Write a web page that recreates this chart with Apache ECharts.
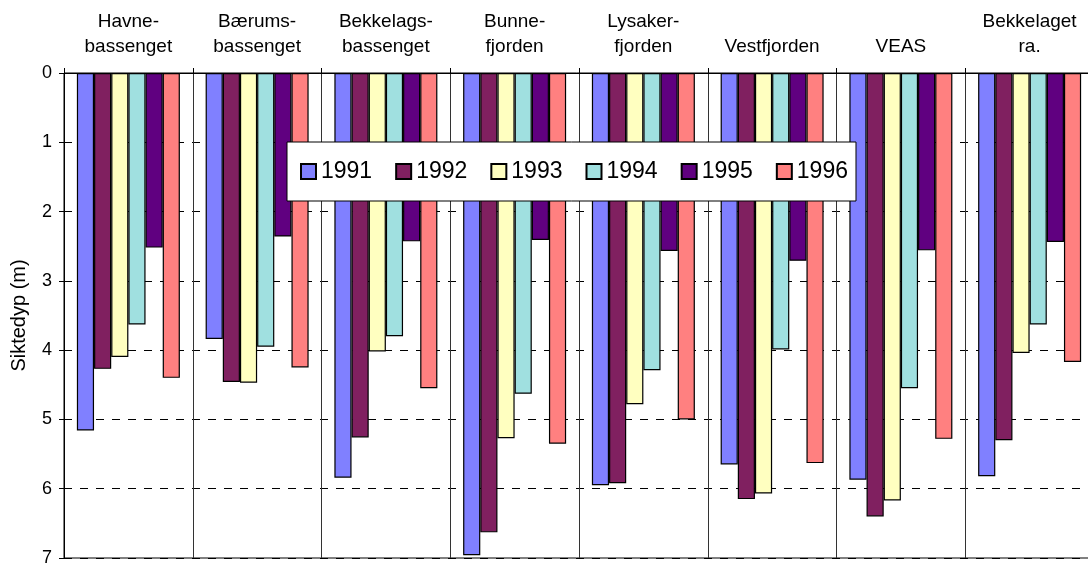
<!DOCTYPE html>
<html>
<head>
<meta charset="utf-8">
<script src="https://cdn.jsdelivr.net/npm/echarts@6/dist/echarts.min.js"></script>
<style>
  html, body { margin: 0; padding: 0; background: #fff; }
  #chart1 { width: 1088px; height: 568px; }
</style>
</head>
<body>
<div id="chart1"></div>
<script>
const categories = ['Havne-\nbassenget', 'Bærums-\nbassenget', 'Bekkelags-\nbassenget', 'Bunne-\nfjorden',
    'Lysaker-\nfjorden', 'Vestfjorden', 'VEAS', 'Bekkelaget\nra.'];
const years = ['1991', '1992', '1993', '1994', '1995', '1996'];
const yearColors = ['#8080FF', '#802060', '#FFFFC0', '#A0E0E0', '#600080', '#FF8080'];

// siktedyp (m) per år, én verdi per område
const v1991 = [5.16, 3.84, 5.84, 6.96, 5.95, 5.65, 5.87, 5.82];
const v1992 = [4.27, 4.46, 5.26, 6.63, 5.92, 6.15, 6.40, 5.30];
const v1993 = [4.10, 4.47, 4.02, 5.27, 4.78, 6.07, 6.17, 4.04];
const v1994 = [3.63, 3.95, 3.80, 4.63, 4.29, 3.99, 4.55, 3.63];
const v1995 = [2.52, 2.36, 2.43, 2.41, 2.57, 2.71, 2.56, 2.44];
const v1996 = [4.40, 4.25, 4.55, 5.35, 5.00, 5.63, 5.28, 4.17];
const yTicks = [0, 1, 2, 3, 4, 5, 6, 7];

const seriesValues = [v1991, v1992, v1993, v1994, v1995, v1996];
const font = 'Liberation Sans, Arial, sans-serif';

const chart = echarts.init(document.getElementById('chart1'));
const option = {
    animation: false,
    backgroundColor: '#fff',
    grid: {
        left: 64,
        width: 1030,
        top: 73,
        bottom: 10,
        outerBoundsMode: 'none',
        containLabel: false,
        show: true,
        borderColor: '#000',
        borderWidth: 1
    },
    legend: {
        data: years,
        icon: 'rect',
        left: 287,
        top: 142,
        padding: [18, 8, 18, 13],
        itemWidth: 15,
        itemHeight: 15,
        itemGap: 23,
        backgroundColor: '#fff',
        borderColor: '#000',
        borderWidth: 1,
        textStyle: { fontFamily: font, fontSize: 23, color: '#000' },
        z: 10
    },
    xAxis: {
        type: 'category',
        position: 'top',
        data: categories,
        axisLine: { lineStyle: { color: '#000' } },
        axisTick: { show: true, length: 5, lineStyle: { color: '#000' } },
        axisLabel: {
            fontFamily: font,
            fontSize: 19,
            color: '#000',
            lineHeight: 25,
            margin: 14,
            interval: 0
        },
        splitLine: { show: true, lineStyle: { color: '#333', width: 1 } }
    },
    yAxis: {
        type: 'value',
        inverse: true,
        min: 0,
        max: 7,
        interval: 1,
        name: 'Siktedyp (m)',
        nameLocation: 'middle',
        nameGap: 35,
        nameTextStyle: { fontFamily: font, fontSize: 20, color: '#000' },
        axisLine: { show: true, lineStyle: { color: '#000' } },
        axisTick: { show: true, length: 5, lineStyle: { color: '#000' } },
        axisLabel: {
            fontFamily: font,
            fontSize: 18,
            color: '#000',
            margin: 12,
            formatter: function (v) { return yTicks.indexOf(v) >= 0 ? String(v) : ''; }
        },
        splitLine: { show: true, lineStyle: { color: '#000', type: [8, 8], width: 1 } }
    },
    series: years.map(function (y, i) {
        return {
            name: y,
            type: 'bar',
            data: seriesValues[i],
            barGap: '0%',
            barCategoryGap: '20%',
            itemStyle: { color: yearColors[i], borderColor: '#000', borderWidth: 1.2 }
        };
    })
};

chart.setOption(option);
window.addEventListener('resize', function () { chart.resize(); });
</script>
</body>
</html>
